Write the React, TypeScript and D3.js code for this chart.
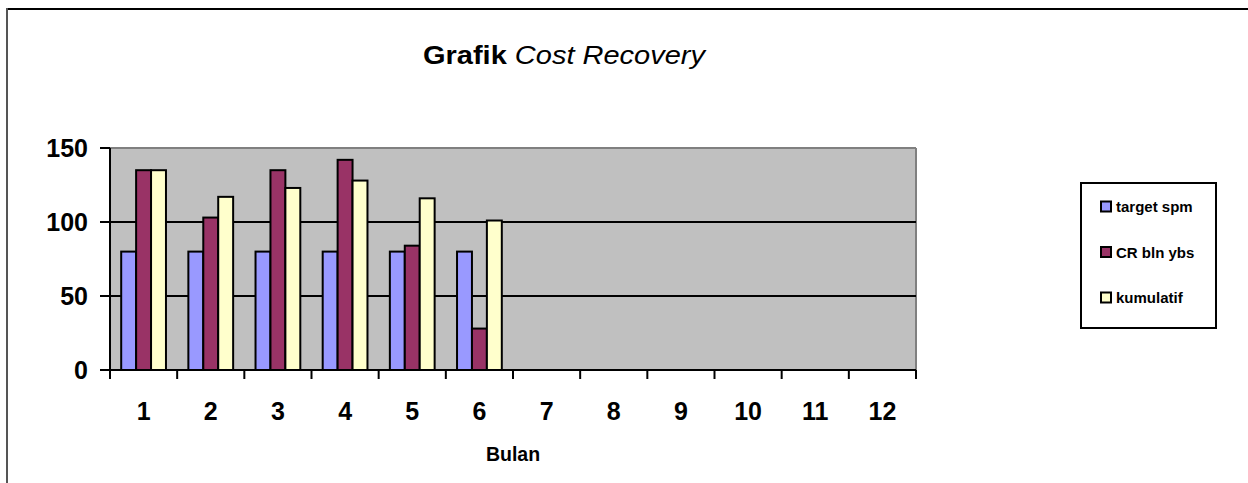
import React from "react";
import * as d3 from "d3";

const months = ["1", "2", "3", "4", "5", "6", "7", "8", "9", "10", "11", "12"];
const seriesNames = ["target spm", "CR bln ybs", "kumulatif"];
const targetSpm = [80, 80, 80, 80, 80, 80, null, null, null, null, null, null];
const crBlnYbs = [135, 103, 135, 142, 84, 28, null, null, null, null, null, null];
const kumulatif = [135, 117, 123, 128, 116, 101, null, null, null, null, null, null];
const yTicks = [0, 50, 100, 150];
const colors = ["#9999FF", "#993366", "#FFFFCC"];

const W = 1248;
const H = 483;
const FONT = "'Liberation Sans', Arial, sans-serif";

export default function App() {
  const left = 110, right = 916, top = 148, bottom = 370;
  const x = d3.scaleBand<string>().domain(months).range([left, right]).paddingInner(0).paddingOuter(0);
  const y = d3.scaleLinear().domain([0, 150]).range([bottom, top]);
  const series = [targetSpm, crBlnYbs, kumulatif];
  const bw = x.bandwidth() / 4.5;
  const groupOffset = (x.bandwidth() - 3 * bw) / 2;

  return (
    <svg width={W} height={H} style={{ position: "absolute", left: 0, top: 0, background: "#fff" }}>
      {/* outer frame */}
      <line x1={7} y1={9} x2={W} y2={9} stroke="#000" strokeWidth={2} />
      <line x1={7} y1={8} x2={7} y2={H} stroke="#555" strokeWidth={2} />

      {/* title */}
      <text x={564} y={63.5} textAnchor="middle" fontFamily={FONT} fontSize={25} textLength={282} lengthAdjust="spacingAndGlyphs">
        <tspan fontWeight="bold">Grafik</tspan>
        <tspan fontStyle="italic"> Cost Recovery</tspan>
      </text>

      {/* plot area */}
      <rect x={left} y={top} width={right - left} height={bottom - top} fill="#C0C0C0" />
      <line x1={left} y1={top} x2={right} y2={top} stroke="#808080" strokeWidth={2} />
      <line x1={right} y1={top} x2={right} y2={bottom} stroke="#808080" strokeWidth={2} />
      {yTicks.filter((t) => t > 0 && t < 150).map((t) => (
        <line key={"g" + t} x1={left} x2={right} y1={y(t)} y2={y(t)} stroke="#000" strokeWidth={2} />
      ))}

      {/* bars */}
      {series.map((s, si) =>
        s.map((v, i) =>
          v == null ? null : (
            <rect
              key={si + "-" + i}
              x={(x(months[i]) as number) + groupOffset + si * bw}
              y={y(v)}
              width={bw}
              height={y(0) - y(v)}
              fill={colors[si]}
              stroke="#000"
              strokeWidth={2}
            />
          )
        )
      )}

      {/* axes */}
      <line x1={left} y1={top} x2={left} y2={bottom} stroke="#000" strokeWidth={2} />
      <line x1={left} y1={bottom} x2={right} y2={bottom} stroke="#000" strokeWidth={2} />
      {yTicks.map((t) => (
        <g key={"y" + t}>
          <line x1={left - 10} x2={left} y1={y(t)} y2={y(t)} stroke="#000" strokeWidth={2} />
          <text x={left - 22} y={y(t) + 9} textAnchor="end" fontFamily={FONT} fontWeight="bold" fontSize={25}>
            {t}
          </text>
        </g>
      ))}
      {[...months.map((m) => x(m) as number), right].map((px, i) => (
        <line key={"xt" + i} x1={px} x2={px} y1={bottom} y2={bottom + 9} stroke="#000" strokeWidth={2} />
      ))}
      {months.map((m) => (
        <text key={"xl" + m} x={(x(m) as number) + x.bandwidth() / 2} y={420} textAnchor="middle" fontFamily={FONT} fontWeight="bold" fontSize={25}>
          {m}
        </text>
      ))}
      <text x={513} y={461} textAnchor="middle" fontFamily={FONT} fontWeight="bold" fontSize={19.5}>
        Bulan
      </text>

      {/* legend */}
      <rect x={1081} y={183} width={135} height={145} fill="#fff" stroke="#000" strokeWidth={2} />
      {seriesNames.map((n, i) => {
        const cy = 207 + i * 45.5;
        return (
          <g key={n}>
            <rect x={1101} y={cy - 5.5} width={10} height={10} fill={colors[i]} stroke="#000" strokeWidth={2} />
            <text x={1116} y={cy + 5} fontFamily={FONT} fontWeight="bold" fontSize={15}>
              {n}
            </text>
          </g>
        );
      })}
    </svg>
  );
}
